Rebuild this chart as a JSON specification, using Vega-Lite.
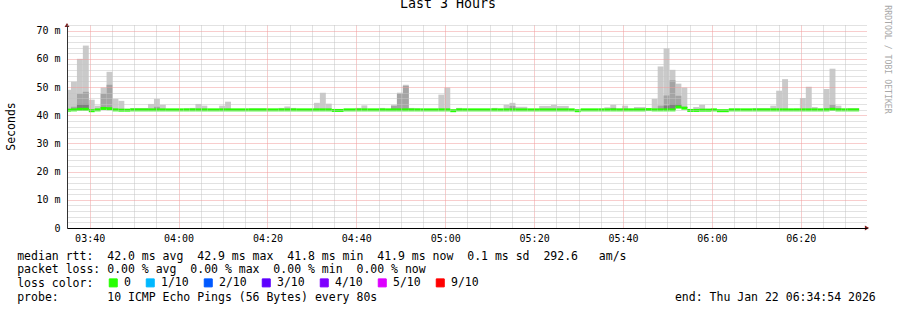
{
 "$schema": "https://vega.github.io/schema/vega-lite/v6.json",
 "width": 800,
 "height": 203,
 "autosize": {"type": "none"},
 "padding": {"left": 67, "top": 25, "right": 30, "bottom": 82},
 "background": "#ffffff",
 "config": {"view": {"stroke": null}, "font": "DejaVu Sans Mono"},
 "title": {"text": "Last 3 Hours", "font": "DejaVu Sans Mono", "fontSize": 13.3, "fontWeight": "normal", "color": "#000000", "anchor": "middle", "dx": -19, "dy": 20, "offset": 0, "baseline": "bottom"},
 "data": {
  "format": {"parse": {"t": "date", "t2": "date"}},
  "values": [
{"t":"2026-01-22T03:34:54","t2":"2026-01-22T03:35:48","med":41.8,"hi":49.0,"loss":"0"},
{"t":"2026-01-22T03:35:48","t2":"2026-01-22T03:37:08","med":41.9,"hi":51.9,"mid":43.0,"loss":"0"},
{"t":"2026-01-22T03:37:08","t2":"2026-01-22T03:38:28","med":42.1,"hi":60.0,"mid":47.6,"dark":44.0,"loss":"0"},
{"t":"2026-01-22T03:38:28","t2":"2026-01-22T03:39:48","med":42.1,"hi":64.7,"mid":48.3,"dark":44.0,"loss":"0"},
{"t":"2026-01-22T03:39:48","t2":"2026-01-22T03:41:08","med":41.6,"hi":45.5,"loss":"0"},
{"t":"2026-01-22T03:41:08","t2":"2026-01-22T03:42:28","med":41.9,"hi":43.4,"loss":"0"},
{"t":"2026-01-22T03:42:28","t2":"2026-01-22T03:43:48","med":42.4,"hi":49.8,"mid":47.6,"dark":42.9,"loss":"0"},
{"t":"2026-01-22T03:43:48","t2":"2026-01-22T03:45:08","med":42.3,"hi":55.4,"mid":50.8,"loss":"0"},
{"t":"2026-01-22T03:45:08","t2":"2026-01-22T03:46:28","med":41.9,"hi":45.8,"loss":"0"},
{"t":"2026-01-22T03:46:28","t2":"2026-01-22T03:47:48","med":41.8,"hi":45.1,"loss":"0"},
{"t":"2026-01-22T03:47:48","t2":"2026-01-22T03:49:08","med":41.8,"loss":"0"},
{"t":"2026-01-22T03:49:08","t2":"2026-01-22T03:53:08","med":41.9,"hi":42.6,"loss":"0"},
{"t":"2026-01-22T03:53:08","t2":"2026-01-22T03:54:28","med":41.9,"hi":44.0,"loss":"0"},
{"t":"2026-01-22T03:54:28","t2":"2026-01-22T03:55:48","med":41.9,"hi":45.8,"mid":43.0,"loss":"0"},
{"t":"2026-01-22T03:55:48","t2":"2026-01-22T03:57:08","med":41.9,"hi":43.7,"loss":"0"},
{"t":"2026-01-22T03:57:08","t2":"2026-01-22T04:01:08","med":41.9,"loss":"0"},
{"t":"2026-01-22T04:01:08","t2":"2026-01-22T04:02:28","med":41.9,"hi":42.4,"loss":"0"},
{"t":"2026-01-22T04:02:28","t2":"2026-01-22T04:03:48","med":41.9,"hi":42.6,"loss":"0"},
{"t":"2026-01-22T04:03:48","t2":"2026-01-22T04:05:08","med":41.9,"hi":44.0,"loss":"0"},
{"t":"2026-01-22T04:05:08","t2":"2026-01-22T04:06:28","med":41.9,"hi":43.4,"loss":"0"},
{"t":"2026-01-22T04:06:28","t2":"2026-01-22T04:09:08","med":41.9,"loss":"0"},
{"t":"2026-01-22T04:09:08","t2":"2026-01-22T04:10:28","med":41.9,"hi":43.4,"loss":"0"},
{"t":"2026-01-22T04:10:28","t2":"2026-01-22T04:11:48","med":41.9,"hi":44.8,"loss":"0"},
{"t":"2026-01-22T04:11:48","t2":"2026-01-22T04:15:48","med":41.9,"loss":"0"},
{"t":"2026-01-22T04:15:48","t2":"2026-01-22T04:19:48","med":41.9,"hi":42.4,"loss":"0"},
{"t":"2026-01-22T04:19:48","t2":"2026-01-22T04:22:28","med":41.9,"loss":"0"},
{"t":"2026-01-22T04:22:28","t2":"2026-01-22T04:23:48","med":41.9,"hi":42.6,"loss":"0"},
{"t":"2026-01-22T04:23:48","t2":"2026-01-22T04:25:08","med":41.9,"hi":43.1,"loss":"0"},
{"t":"2026-01-22T04:25:08","t2":"2026-01-22T04:26:28","med":41.9,"hi":42.6,"loss":"0"},
{"t":"2026-01-22T04:26:28","t2":"2026-01-22T04:30:28","med":41.9,"loss":"0"},
{"t":"2026-01-22T04:30:28","t2":"2026-01-22T04:31:48","med":41.9,"hi":44.4,"loss":"0"},
{"t":"2026-01-22T04:31:48","t2":"2026-01-22T04:33:08","med":41.9,"hi":48.0,"loss":"0"},
{"t":"2026-01-22T04:33:08","t2":"2026-01-22T04:34:28","med":41.9,"hi":44.1,"loss":"0"},
{"t":"2026-01-22T04:34:28","t2":"2026-01-22T04:37:08","med":41.7,"loss":"0"},
{"t":"2026-01-22T04:37:08","t2":"2026-01-22T04:39:48","med":41.9,"loss":"0"},
{"t":"2026-01-22T04:39:48","t2":"2026-01-22T04:41:08","med":41.9,"hi":42.6,"loss":"0"},
{"t":"2026-01-22T04:41:08","t2":"2026-01-22T04:42:28","med":41.9,"hi":43.5,"loss":"0"},
{"t":"2026-01-22T04:42:28","t2":"2026-01-22T04:45:08","med":41.9,"loss":"0"},
{"t":"2026-01-22T04:45:08","t2":"2026-01-22T04:46:28","med":41.9,"hi":42.6,"loss":"0"},
{"t":"2026-01-22T04:46:28","t2":"2026-01-22T04:47:48","med":41.9,"loss":"0"},
{"t":"2026-01-22T04:47:48","t2":"2026-01-22T04:49:08","med":41.9,"hi":43.7,"mid":43.3,"loss":"0"},
{"t":"2026-01-22T04:49:08","t2":"2026-01-22T04:50:28","med":41.9,"hi":48.0,"mid":47.6,"loss":"0"},
{"t":"2026-01-22T04:50:28","t2":"2026-01-22T04:51:48","med":41.9,"hi":50.8,"mid":50.4,"loss":"0"},
{"t":"2026-01-22T04:51:48","t2":"2026-01-22T04:53:08","med":41.9,"hi":42.6,"loss":"0"},
{"t":"2026-01-22T04:53:08","t2":"2026-01-22T04:54:28","med":41.9,"hi":42.4,"loss":"0"},
{"t":"2026-01-22T04:54:28","t2":"2026-01-22T04:58:28","med":41.9,"loss":"0"},
{"t":"2026-01-22T04:58:28","t2":"2026-01-22T04:59:48","med":41.9,"hi":47.3,"loss":"0"},
{"t":"2026-01-22T04:59:48","t2":"2026-01-22T05:01:08","med":41.9,"hi":49.8,"loss":"0"},
{"t":"2026-01-22T05:01:08","t2":"2026-01-22T05:02:28","med":41.6,"loss":"0"},
{"t":"2026-01-22T05:02:28","t2":"2026-01-22T05:03:48","med":41.9,"hi":42.6,"loss":"0"},
{"t":"2026-01-22T05:03:48","t2":"2026-01-22T05:05:08","med":41.9,"hi":42.3,"loss":"0"},
{"t":"2026-01-22T05:05:08","t2":"2026-01-22T05:10:28","med":41.9,"loss":"0"},
{"t":"2026-01-22T05:10:28","t2":"2026-01-22T05:11:48","med":41.9,"hi":42.6,"loss":"0"},
{"t":"2026-01-22T05:11:48","t2":"2026-01-22T05:13:08","med":41.9,"loss":"0"},
{"t":"2026-01-22T05:13:08","t2":"2026-01-22T05:14:28","med":41.9,"hi":43.7,"loss":"0"},
{"t":"2026-01-22T05:14:28","t2":"2026-01-22T05:15:48","med":41.9,"hi":44.4,"mid":43.3,"loss":"0"},
{"t":"2026-01-22T05:15:48","t2":"2026-01-22T05:18:28","med":41.9,"hi":43.0,"loss":"0"},
{"t":"2026-01-22T05:18:28","t2":"2026-01-22T05:21:08","med":41.9,"loss":"0"},
{"t":"2026-01-22T05:21:08","t2":"2026-01-22T05:23:48","med":41.9,"hi":43.3,"loss":"0"},
{"t":"2026-01-22T05:23:48","t2":"2026-01-22T05:25:08","med":41.9,"hi":43.7,"loss":"0"},
{"t":"2026-01-22T05:25:08","t2":"2026-01-22T05:27:48","med":41.9,"hi":43.3,"loss":"0"},
{"t":"2026-01-22T05:27:48","t2":"2026-01-22T05:29:08","med":41.9,"loss":"0"},
{"t":"2026-01-22T05:29:08","t2":"2026-01-22T05:30:28","med":41.6,"loss":"0"},
{"t":"2026-01-22T05:30:28","t2":"2026-01-22T05:34:28","med":41.9,"loss":"0"},
{"t":"2026-01-22T05:34:28","t2":"2026-01-22T05:35:48","med":41.9,"hi":42.3,"loss":"0"},
{"t":"2026-01-22T05:35:48","t2":"2026-01-22T05:37:08","med":41.9,"hi":42.8,"loss":"0"},
{"t":"2026-01-22T05:37:08","t2":"2026-01-22T05:38:28","med":41.9,"hi":43.7,"mid":42.6,"loss":"0"},
{"t":"2026-01-22T05:38:28","t2":"2026-01-22T05:39:48","med":41.9,"hi":42.3,"loss":"0"},
{"t":"2026-01-22T05:39:48","t2":"2026-01-22T05:41:08","med":41.9,"hi":43.4,"loss":"0"},
{"t":"2026-01-22T05:41:08","t2":"2026-01-22T05:42:28","med":41.9,"hi":42.3,"loss":"0"},
{"t":"2026-01-22T05:42:28","t2":"2026-01-22T05:45:08","med":41.9,"hi":42.9,"loss":"0"},
{"t":"2026-01-22T05:45:08","t2":"2026-01-22T05:46:28","med":42.0,"loss":"0"},
{"t":"2026-01-22T05:46:28","t2":"2026-01-22T05:47:48","med":41.9,"hi":45.8,"loss":"0"},
{"t":"2026-01-22T05:47:48","t2":"2026-01-22T05:49:08","med":41.9,"hi":57.3,"mid":43.4,"loss":"0"},
{"t":"2026-01-22T05:49:08","t2":"2026-01-22T05:50:28","med":41.9,"hi":63.7,"mid":47.0,"dark":43.4,"loss":"0"},
{"t":"2026-01-22T05:50:28","t2":"2026-01-22T05:51:48","med":41.9,"hi":56.1,"mid":52.4,"dark":44.0,"loss":"0"},
{"t":"2026-01-22T05:51:48","t2":"2026-01-22T05:53:08","med":42.9,"hi":51.2,"mid":46.9,"dark":44.0,"loss":"0"},
{"t":"2026-01-22T05:53:08","t2":"2026-01-22T05:54:28","med":42.5,"hi":49.8,"mid":43.0,"dark":42.9,"loss":"0"},
{"t":"2026-01-22T05:54:28","t2":"2026-01-22T05:55:48","med":41.7,"hi":42.2,"loss":"0"},
{"t":"2026-01-22T05:55:48","t2":"2026-01-22T05:57:08","med":41.7,"hi":42.9,"loss":"0"},
{"t":"2026-01-22T05:57:08","t2":"2026-01-22T05:58:28","med":41.8,"hi":43.7,"loss":"0"},
{"t":"2026-01-22T05:58:28","t2":"2026-01-22T05:59:48","med":41.8,"hi":42.3,"loss":"0"},
{"t":"2026-01-22T05:59:48","t2":"2026-01-22T06:01:08","med":41.9,"loss":"0"},
{"t":"2026-01-22T06:01:08","t2":"2026-01-22T06:03:48","med":41.6,"loss":"0"},
{"t":"2026-01-22T06:03:48","t2":"2026-01-22T06:06:28","med":41.9,"hi":42.3,"loss":"0"},
{"t":"2026-01-22T06:06:28","t2":"2026-01-22T06:09:08","med":41.9,"loss":"0"},
{"t":"2026-01-22T06:09:08","t2":"2026-01-22T06:13:08","med":41.9,"hi":42.5,"loss":"0"},
{"t":"2026-01-22T06:13:08","t2":"2026-01-22T06:14:28","med":41.9,"hi":43.4,"loss":"0"},
{"t":"2026-01-22T06:14:28","t2":"2026-01-22T06:15:48","med":41.9,"hi":48.7,"loss":"0"},
{"t":"2026-01-22T06:15:48","t2":"2026-01-22T06:17:08","med":41.9,"hi":52.8,"loss":"0"},
{"t":"2026-01-22T06:17:08","t2":"2026-01-22T06:18:28","med":41.9,"loss":"0"},
{"t":"2026-01-22T06:18:28","t2":"2026-01-22T06:19:48","med":41.9,"hi":42.3,"loss":"0"},
{"t":"2026-01-22T06:19:48","t2":"2026-01-22T06:21:08","med":41.9,"hi":46.1,"loss":"0"},
{"t":"2026-01-22T06:21:08","t2":"2026-01-22T06:22:28","med":41.9,"hi":50.1,"loss":"0"},
{"t":"2026-01-22T06:22:28","t2":"2026-01-22T06:23:48","med":41.9,"hi":42.9,"loss":"0"},
{"t":"2026-01-22T06:23:48","t2":"2026-01-22T06:25:08","med":41.9,"loss":"0"},
{"t":"2026-01-22T06:25:08","t2":"2026-01-22T06:26:28","med":41.9,"hi":49.3,"mid":42.5,"loss":"0"},
{"t":"2026-01-22T06:26:28","t2":"2026-01-22T06:27:48","med":42.1,"hi":56.5,"mid":43.7,"loss":"0"},
{"t":"2026-01-22T06:27:48","t2":"2026-01-22T06:29:08","med":41.9,"hi":43.4,"mid":42.5,"loss":"0"},
{"t":"2026-01-22T06:29:08","t2":"2026-01-22T06:30:28","med":41.9,"hi":42.3,"loss":"0"},
{"t":"2026-01-22T06:30:28","t2":"2026-01-22T06:33:08","med":41.9,"hi":42.5,"loss":"0"}
  ]
 },
 "resolve": {"axis": {"y": "independent"}},
 "layer": [
  {
   "mark": {"type": "rect", "color": "#cacaca", "clip": true},
   "encoding": {
    "x": {"field": "t", "type": "temporal",
     "axis": {"grid": true,
      "gridColor": {"condition": {"test": "minutes(datum.value) % 20 === 0", "value": "#f09a9a"}, "value": "#c4c4c4"},
      "gridDash": [1, 1], "tickCount": 36,
      "labelExpr": "minutes(datum.value) % 20 === 0 ? timeFormat(datum.value, '%H:%M') : ''",
      "labelFont": "DejaVu Sans Mono", "labelFontSize": 10, "labelColor": "#000000", "labelPadding": 5, "labelFlush": false, "labelOverlap": false,
      "ticks": false, "domainColor": "#000000", "zindex": 1,
      "title": [
       "median\u00a0rtt:\u00a0\u00a042.0\u00a0ms\u00a0avg\u00a0\u00a042.9\u00a0ms\u00a0max\u00a0\u00a041.8\u00a0ms\u00a0min\u00a0\u00a041.9\u00a0ms\u00a0now\u00a0\u00a00.1\u00a0ms\u00a0sd\u00a0\u00a0292.6\u00a0\u00a0\u00a0am/s",
       "packet\u00a0loss:\u00a00.00\u00a0%\u00a0avg\u00a0\u00a00.00\u00a0%\u00a0max\u00a0\u00a00.00\u00a0%\u00a0min\u00a0\u00a00.00\u00a0%\u00a0now",
       "loss\u00a0color:",
       "probe:\u00a0\u00a0\u00a0\u00a0\u00a0\u00a0\u00a010\u00a0ICMP\u00a0Echo\u00a0Pings\u00a0(56\u00a0Bytes)\u00a0every\u00a080s\u00a0\u00a0\u00a0\u00a0\u00a0\u00a0\u00a0\u00a0\u00a0\u00a0\u00a0\u00a0\u00a0\u00a0\u00a0\u00a0\u00a0\u00a0\u00a0\u00a0\u00a0\u00a0\u00a0\u00a0\u00a0\u00a0\u00a0\u00a0\u00a0\u00a0\u00a0\u00a0\u00a0\u00a0\u00a0\u00a0\u00a0\u00a0\u00a0\u00a0\u00a0\u00a0\u00a0end:\u00a0Thu\u00a0Jan\u00a022\u00a006:34:54\u00a02026"
      ],
      "titleX": -50.3, "titleY": 31, "titleAlign": "left", "titleBaseline": "alphabetic", "titleLineHeight": 13.8,
      "titleFont": "DejaVu Sans Mono", "titleFontSize": 11.5, "titleFontWeight": "normal", "titleColor": "#000000"}},
    "x2": {"field": "t2"},
    "y": {"field": "hi", "type": "quantitative", "scale": {"domain": [0, 72], "nice": false},
     "axis": {"orient": "left", "grid": true,
      "gridColor": {"condition": {"test": "datum.value % 10 === 0", "value": "#f09a9a"}, "value": "#c4c4c4"},
      "gridDash": [1, 1], "tickCount": 36,
      "labelExpr": "datum.value % 10 === 0 ? (datum.value === 0 ? '0' : datum.value + ' m') : ''",
      "labelFont": "DejaVu Sans Mono", "labelFontSize": 10, "labelColor": "#000000", "labelPadding": 7, "labelOverlap": false,
      "ticks": false, "domainColor": "#333333", "zindex": 1,
      "title": "Seconds", "titleX": -56, "titleY": 101, "titleAngle": -90, "titleAlign": "center", "titleBaseline": "middle",
      "titleFont": "DejaVu Sans Mono", "titleFontSize": 11.5, "titleFontWeight": "normal", "titleColor": "#000000"}},
    "y2": {"field": "med"}
   }
  },
  {
   "mark": {"type": "rect", "color": "#a4a4a4", "clip": true},
   "encoding": {
    "x": {"field": "t", "type": "temporal"},
    "x2": {"field": "t2"},
    "y": {"field": "mid", "type": "quantitative",
     "axis": {"orient": "right", "grid": false, "labels": false, "ticks": false, "domain": false,
      "title": "RRDTOOL / TOBI OETIKER", "titleAngle": 90, "titleX": 19.5, "titleY": 34, "titleAlign": "center", "titleBaseline": "middle",
      "titleFont": "DejaVu Sans Mono", "titleFontSize": 8.2, "titleFontWeight": "normal", "titleColor": "#a8a8a8"}},
    "y2": {"field": "med"}
   }
  },
  {
   "mark": {"type": "rect", "color": "#7e7e7e", "clip": true},
   "encoding": {
    "x": {"field": "t", "type": "temporal"},
    "x2": {"field": "t2"},
    "y": {"field": "dark", "type": "quantitative", "axis": null},
    "y2": {"field": "med"}
   }
  },
  {
   "mark": {"type": "rule", "strokeWidth": 3, "clip": true},
   "encoding": {
    "x": {"field": "t", "type": "temporal"},
    "x2": {"field": "t2"},
    "y": {"field": "med", "type": "quantitative", "axis": null},
    "color": {"field": "loss", "type": "nominal",
     "scale": {"domain": ["0", "1/10", "2/10", "3/10", "4/10", "5/10", "9/10"], "range": ["#26ff00", "#00b8ff", "#0059ff", "#5e00ff", "#7e00ff", "#dd00ff", "#ff0000"]},
     "legend": {"orient": "none", "legendX": 40.5, "legendY": 252, "direction": "horizontal", "title": null,
      "symbolType": "square", "symbolSize": 64, "symbolStrokeWidth": 1, "symbolStrokeColor": "#000000",
      "labelFont": "DejaVu Sans Mono", "labelFontSize": 11.5, "labelColor": "#000000", "labelOffset": 5,
      "columnPadding": 12, "padding": 0, "rowPadding": 0,
      "encode": {"symbols": {"update": {"fill": {"scale": "color", "field": "value"}, "stroke": {"value": "#000000"}, "strokeWidth": {"value": 1}, "opacity": {"value": 1}}}}}}
   }
  },
  {
   "data": {"format": {"parse": {"t": "date"}}, "values": [{"t": "2026-01-22T06:34:54", "v": 0}]},
   "mark": {"type": "point", "shape": "triangle-right", "filled": true, "color": "#7f1f1f", "size": 24, "opacity": 1},
   "encoding": {
    "x": {"field": "t", "type": "temporal"},
    "y": {"field": "v", "type": "quantitative", "axis": null}
   }
  },
  {
   "data": {"format": {"parse": {"t": "date"}}, "values": [{"t": "2026-01-22T03:34:54", "v": 72}]},
   "mark": {"type": "point", "shape": "triangle-up", "filled": true, "color": "#7f1f1f", "size": 24, "opacity": 1},
   "encoding": {
    "x": {"field": "t", "type": "temporal"},
    "y": {"field": "v", "type": "quantitative", "axis": null}
   }
  }
 ]
}
